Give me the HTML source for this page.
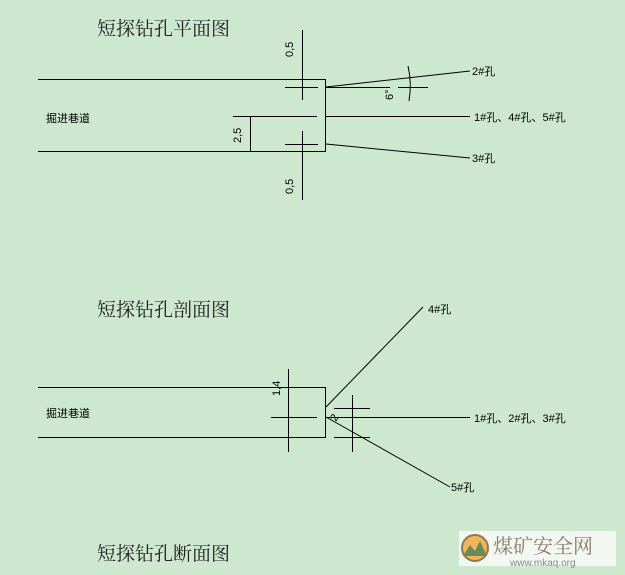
<!DOCTYPE html>
<html><head><meta charset="utf-8"><style>
html,body{margin:0;padding:0;background:#cde8ce;}
svg{display:block}
text{font-family:"Liberation Sans","Noto Sans CJK SC",sans-serif;fill:#000}
.t{font-family:"Liberation Serif","Noto Serif CJK SC",serif;font-size:19px;fill:#222}
.s{font-size:11px}
</style></head><body>
<svg width="625" height="575" viewBox="0 0 625 575" xmlns="http://www.w3.org/2000/svg">
<rect width="625" height="575" fill="#cde8ce"/>
<g stroke="#000" stroke-width="1" fill="none">
<!-- plan view -->
<line x1="38" y1="79.5" x2="326" y2="79.5"/>
<line x1="38" y1="151.5" x2="326" y2="151.5"/>
<line x1="325.5" y1="79" x2="325.5" y2="152"/>
<line x1="233" y1="116.5" x2="317" y2="116.5"/>
<line x1="250.5" y1="116" x2="250.5" y2="151"/>
<line x1="302.5" y1="30" x2="302.5" y2="100"/>
<line x1="302.5" y1="131" x2="302.5" y2="200"/>
<line x1="285" y1="87.5" x2="318" y2="87.5"/>
<line x1="285" y1="144.5" x2="318" y2="144.5"/>
<line x1="326" y1="87" x2="470" y2="71"/>
<line x1="326" y1="87.5" x2="390" y2="87.5"/>
<line x1="398" y1="87.5" x2="428" y2="87.5"/>
<path d="M408 66 Q412 83 409 101"/>
<line x1="326" y1="116.5" x2="470" y2="116.5"/>
<line x1="326" y1="144" x2="470" y2="158"/>
<!-- section view -->
<line x1="38" y1="387.5" x2="326" y2="387.5"/>
<line x1="38" y1="437.5" x2="326" y2="437.5"/>
<line x1="325.5" y1="387" x2="325.5" y2="438"/>
<line x1="288.5" y1="369" x2="288.5" y2="452"/>
<line x1="271" y1="417.5" x2="317" y2="417.5"/>
<line x1="326" y1="407" x2="423" y2="307"/>
<line x1="326" y1="417.5" x2="470" y2="417.5"/>
<line x1="326" y1="417" x2="450" y2="487"/>
<line x1="352.5" y1="395" x2="352.5" y2="452"/>
<line x1="334" y1="408.5" x2="370" y2="408.5"/>
<line x1="334" y1="437.5" x2="370" y2="437.5"/>
</g>
<text class="t" x="97" y="35">短探钻孔平面图</text>
<text class="t" x="97" y="316">短探钻孔剖面图</text>
<text class="t" x="97" y="560">短探钻孔断面图</text>
<text class="s" x="46" y="122">掘进巷道</text>
<text class="s" x="46" y="417">掘进巷道</text>
<text class="s" x="472" y="75">2#孔</text>
<text class="s" x="474" y="121">1#孔、4#孔、5#孔</text>
<text class="s" x="472" y="162">3#孔</text>
<text class="s" x="428" y="313">4#孔</text>
<text class="s" x="474" y="422">1#孔、2#孔、3#孔</text>
<text class="s" x="451" y="491">5#孔</text>
<text class="s" transform="translate(293,57) rotate(-90)">0,5</text>
<text class="s" transform="translate(293,194) rotate(-90)">0,5</text>
<text class="s" transform="translate(241,143) rotate(-90)">2,5</text>
<text class="s" transform="translate(280,396) rotate(-90)">1,4</text>
<text class="s" transform="translate(393,100) rotate(-90)">6°</text>
<text class="s" transform="translate(336,422) rotate(-60)">2</text>
<!-- logo -->
<rect x="459" y="531" width="157" height="35" fill="#f2f7f2"/>
<circle cx="475" cy="548" r="13" fill="#f2b65a" stroke="#8a7a55" stroke-width="2"/>
<path d="M463 556 L470 545 L475 551 L480 541 L487 556 Z" fill="#6b8a5a"/>
<text x="493" y="553" style="font-size:20px;fill:#8a7c6e;font-family:'Liberation Serif','Noto Serif CJK SC',serif">煤矿安全网</text>
<text x="510" y="566" style="font-size:10px;fill:#8a8a8a">www.mkaq.org</text>
</svg>
</body></html>
